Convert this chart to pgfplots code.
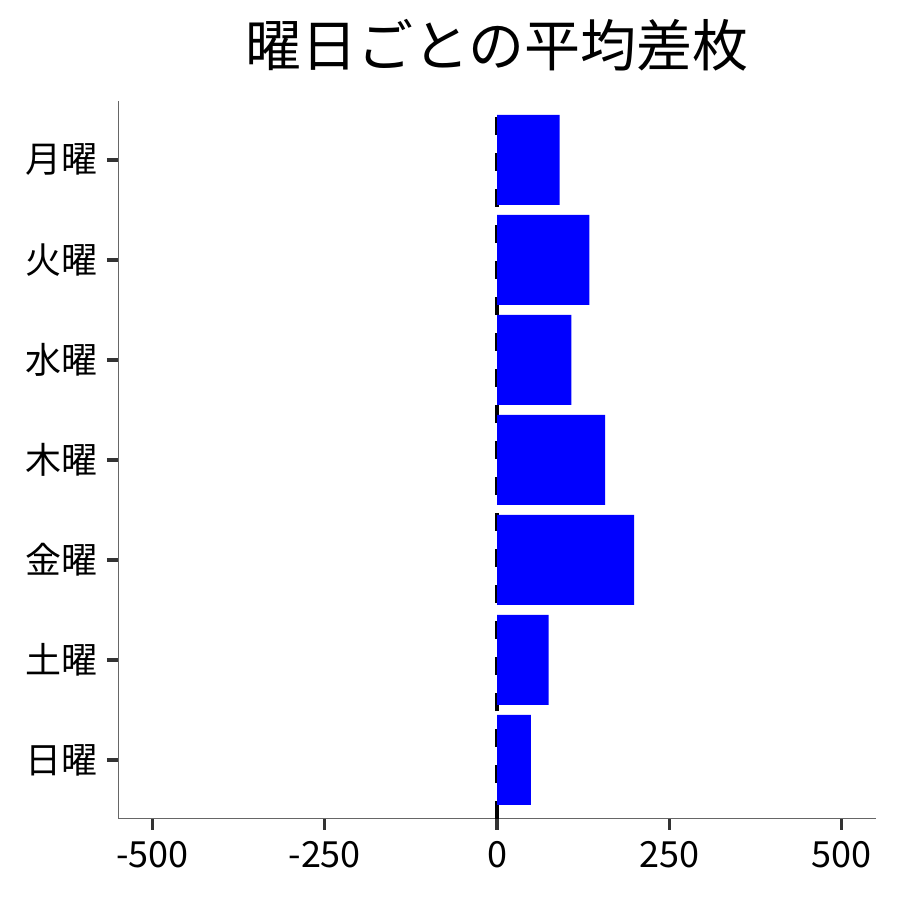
\documentclass[border=0pt]{standalone}
\usepackage{pgfplots}
\pgfplotsset{compat=1.18}
\usepackage{fontspec}
\setmainfont{Noto Sans CJK JP}
\definecolor{barblue}{RGB}{0,0,255}
\definecolor{spine}{RGB}{102,102,102}
\definecolor{tickc}{RGB}{51,51,51}
\begin{document}
\begin{tikzpicture}
\useasboundingbox (0,0) rectangle (450pt,450pt);
\node[font=\fontsize{28}{28}\selectfont] at (248.5pt,427.5pt) {曜日ごとの平均差枚};
\begin{axis}[
  at={(59pt,40.5pt)}, anchor=south west,
  scale only axis, width=379pt, height=359pt,
  xmin=-550, xmax=550, ymin=-0.59, ymax=6.59,
  axis x line*=bottom, axis y line*=left,
  axis line style={spine, line width=0.5pt, -},
  xtick={-500,-250,0,250,500},
  xticklabels={-500,-250,0,250,500},
  ytick={0,1,2,3,4,5,6},
  yticklabels={日曜,土曜,金曜,木曜,水曜,火曜,月曜},
  tick align=outside,
  major tick length=5.5pt,
  tick style={tickc, line width=1.6pt},
  ticklabel style={font=\fontsize{18}{18}\selectfont},
  xticklabel style={yshift=-2pt},
  yticklabel style={xshift=-1pt},
  clip=false,
]
\addplot[black, line width=2.2pt, dash pattern=on 9pt off 9pt, forget plot] coordinates {(0,-0.59) (0,6.59)};
\addplot[xbar, bar width=0.9, bar shift=0pt, fill=barblue, draw=none] coordinates {
(49,0) (75,1) (199,2) (157,3) (108,4) (134,5) (91,6)};
\end{axis}
\end{tikzpicture}
\end{document}
